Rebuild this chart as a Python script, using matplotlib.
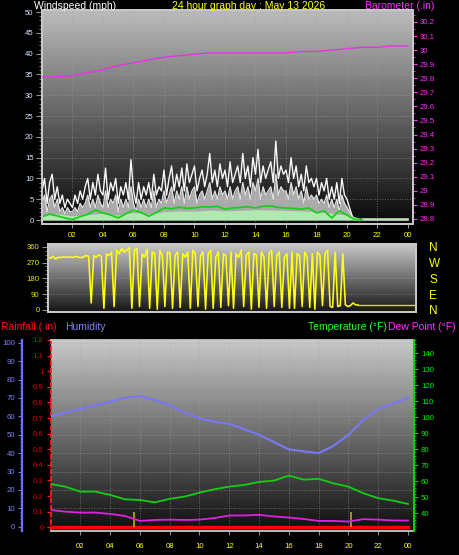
import matplotlib
matplotlib.use('Agg')
import matplotlib.pyplot as plt
import numpy as np
from matplotlib.ticker import MultipleLocator, FixedLocator

plt.rcParams['font.family'] = ['Liberation Sans', 'DejaVu Sans']

# ---------------- data ----------------
# wind gust (mph), every 10 min from 00:00 to 20:30
wind_gust = [7, 10, 4, 9, 11, 5,
             8, 4, 6, 3, 5, 4,
             3, 6, 4, 7, 5, 8,
             10, 5, 9, 6, 11, 7,
             6, 12.5, 5, 9, 7, 10,
             4, 8, 6, 9, 5, 14.5,
             7, 4, 9, 5, 8, 6,
             9, 5, 11, 6, 8, 7,
             12, 6, 10, 13, 7, 11,
             8, 12.5, 7, 13.5, 9, 11,
             13, 7, 10, 12, 8, 11,
             16, 9, 12, 8, 13.5, 10,
             12, 8, 14, 9, 11, 13,
             9, 16, 10, 13, 8, 15,
             11, 17, 9, 13, 10, 12,
             14, 9, 19, 10, 13, 11,
             12, 9, 15, 10, 13, 8,
             11, 7, 13, 9, 10, 8,
             10, 6, 9, 7, 10, 5,
             8, 5, 9, 4, 10, 6,
             5, 3, 1, 0]
# wind speed (mph), every 10 min from 00:00 to 20:30
wind_speed = [4, 6, 2, 5, 6, 3,
              5, 2, 3, 1.5, 3, 2,
              2, 3, 2, 4, 3, 4,
              6, 3, 5, 3, 6, 4,
              3, 7, 3, 5, 4, 6,
              2, 5, 3, 5, 3, 8,
              4, 2, 5, 3, 5, 3,
              5, 3, 7, 3, 5, 4,
              7, 4, 6, 8, 4, 7,
              5, 8, 4, 8, 5, 7,
              8, 4, 6, 7, 5, 7,
              9, 5, 7, 5, 8, 6,
              7, 5, 8, 5, 7, 8,
              5, 9, 6, 8, 5, 9,
              7, 10, 5, 8, 6, 7,
              8, 5, 11, 6, 8, 7,
              7, 5, 9, 6, 8, 5,
              7, 4, 8, 5, 6, 5,
              6, 4, 5, 4, 6, 3,
              5, 3, 5, 2, 6, 4,
              3, 2, 1, 0]
# smoothed wind (mph), every 30 min from 00:00 to 21:00
wind_smooth = [0.8, 1.4, 1.0, 0.5, 0.1, 0.8, 1.4, 2.4, 1.7, 1.2, 0.5, 1.5, 2.4, 1.8,
               0.9, 1.8, 2.9, 2.7, 3.1, 2.8, 2.9, 3.2, 3.1, 3.3, 2.6, 2.9, 3.0, 3.2,
               2.9, 3.3, 3.4, 3.0, 2.9, 2.8, 2.6, 2.9, 1.7, 2.2, 0.5, 2.2, 1.2, 0.1, 0]
# low wind band (mph), hourly 00:00 to 21:00
wind_low = [1.2, 1.5, 1.0, 1.3, 1.6, 1.2, 1.8, 1.4, 2.0, 2.2, 2.1, 2.4, 2.2, 2.3,
            2.5, 2.4, 2.3, 2.2, 2.0, 1.6, 1.2, 0.3]
# barometer (in), hourly 00:00 to 24:00
baro = [29.81, 29.81, 29.82, 29.84, 29.86, 29.89, 29.91, 29.93, 29.95, 29.96, 29.97,
        29.98, 29.98, 29.98, 29.98, 29.98, 29.98, 29.99, 29.99, 30.00, 30.01, 30.02,
        30.02, 30.03, 30.03]
# wind direction (deg), every 10 min from 00:00 to 20:20
wind_dir = [300, 295, 305, 290, 300, 298, 302, 300, 300, 302, 300, 305, 300, 298, 302, 310, 305, 40, 310, 300, 315, 305, 10, 320,
            310, 330, 20, 340, 320, 350, 330, 340, 355, 10, 340, 350, 20, 320, 300, 345, 10, 330, 320, 5, 340, 310, 20, 330,
            325, 10, 310, 330, 15, 320, 300, 330, 10, 340, 320, 20, 310, 330, 5, 320, 340, 10, 300, 330, 15, 320, 310, 25,
            330, 10, 320, 300, 340, 20, 310, 330, 5, 320, 315, 15, 330, 300, 10, 320, 340, 20, 310, 330, 15, 300, 320, 10,
            330, 10, 320, 310, 20, 330, 300, 15, 320, 5, 330, 310, 25, 320, 340, 20, 15, 330, 20, 25, 320, 30, 20, 25,
            40, 30, 28]
dir_tail = 28
# hourly 00:00 to 24:00
humidity = [60, 62, 64, 66, 68, 70, 71, 69, 66, 62, 59, 57, 56, 53, 50, 46, 42, 41, 40, 44,
            50, 58, 64, 67, 70]
temperature = [58.3, 56.6, 53.5, 53.5, 51.5, 48.7, 48.3, 46.8, 49.0, 50.4, 52.9, 55.0, 56.6,
               57.7, 59.6, 60.4, 63.5, 61.0, 61.5, 58.7, 56.6, 52.5, 49.4, 47.9, 45.8]
dewpoint = [42, 41, 40.4, 40.4, 39.6, 38.3, 35.2, 35.8, 36, 35.8, 36, 37, 38.6, 38.6, 39,
            38, 37.3, 36.4, 35.2, 35.2, 34.8, 36.3, 36, 35.5, 35.4]
rainfall = [0.0] * 25
sun_marks = [5.6, 20.2]
hour_labels = ['02', '04', '06', '08', '10', '12', '14', '16', '18', '20', '22', '00']
hour_ticks = [2, 4, 6, 8, 10, 12, 14, 16, 18, 20, 22, 24]

t10w = np.arange(len(wind_gust)) / 6.0
t30 = np.arange(len(wind_smooth)) * 0.5
t60w = np.arange(len(wind_low)) * 1.0
t60 = np.arange(len(baro)) * 1.0
t10 = np.arange(len(wind_dir)) / 6.0

# ---------------- layout ----------------
W, H = 459, 555
fig = plt.figure(figsize=(W / 100, H / 100), dpi=100, facecolor='black')


def box(l, t, r, b):
    return [l / W, 1 - b / H, (r - l) / W, (b - t) / H]


def gradient(ax, top, bottom):
    g = np.linspace(top, bottom, 256).reshape(-1, 1)
    ax.imshow(g, extent=[0, 1, 0, 1], transform=ax.transAxes, cmap='gray',
              vmin=0, vmax=255, aspect='auto', zorder=0, interpolation='bilinear')


def frame(ax, color='#c8c8c8'):
    for s in ax.spines.values():
        s.set_color(color)
        s.set_linewidth(1.3)


FS = 5.6
TFS = 7.5
YEL = '#ffff00'
GRID = dict(color='#a0a0a0', linestyle=(0, (1, 2)), linewidth=0.6, alpha=0.7)

# ---- top panel: wind + barometer ----
ax1 = fig.add_axes(box(42, 10, 413, 224))
gradient(ax1, 188, 8)
ax1.set_xlim(0, 24.33)
ax1.set_ylim(-0.96, 50.5)
ax1.set_facecolor('black')
frame(ax1)
ax1.yaxis.set_major_locator(MultipleLocator(5))
ax1.yaxis.set_minor_locator(MultipleLocator(1))
ax1.set_xticks(hour_ticks)
ax1.set_xticklabels(hour_labels)
ax1.tick_params(axis='y', which='major', length=4, color='#909090', labelcolor='#dce6ff',
                labelsize=FS, pad=2)
ax1.tick_params(axis='y', which='minor', length=2, color='#909090')
ax1.tick_params(axis='x', length=3, color='#909090', labelcolor=YEL, labelsize=FS, pad=3)
for v in range(5, 51, 5):
    ax1.axhline(v, zorder=1, **GRID)
for v in hour_ticks[:-1]:
    ax1.axvline(v, zorder=1, **GRID)

ax1.fill_between(t10w, 0, wind_speed, color='#d0d0d0', alpha=0.8, lw=0, zorder=2)
ax1.plot(t10w, wind_gust, color='#f8f8f8', lw=1.0, zorder=3)
ax1.plot(t10w, wind_speed, color='#e0e0e0', lw=0.9, zorder=3)
ax1.fill_between(t60w, 0, wind_low, color='#b0e8b0', lw=0, zorder=4)
ax1.plot([t10w[-1], 24], [0, 0], color='#d0d0d0', lw=1.2, zorder=4)
ax1.plot([t60w[-1], 24], [wind_low[-1], wind_low[-1]], color='#b0e8b0', lw=1.2, zorder=4)
ax1.plot(t30, wind_smooth, color='#18d018', lw=1.3, zorder=5)

axb = ax1.twinx()
frame(axb)
axb.set_ylim(28.764, 30.285)
bt = [round(28.8 + 0.1 * i, 1) for i in range(15)]
axb.set_yticks(bt)
axb.set_yticklabels(['%g' % v for v in bt])
axb.yaxis.set_minor_locator(MultipleLocator(0.05))
axb.tick_params(axis='y', which='major', length=3, color='#ff30ff', labelcolor='#ff30ff',
                labelsize=FS, pad=2)
axb.tick_params(axis='y', which='minor', length=1.5, color='#ff30ff')
axb.plot(t60, baro, color='#e832e8', lw=1.0, zorder=5)

# ---- middle panel: wind direction ----
ax2 = fig.add_axes(box(48, 244.3, 415.5, 312.3))
gradient(ax2, 200, 22)
ax2.set_xlim(0, 24.1)
ax2.set_ylim(-13.1, 373.6)
frame(ax2)
ax2.set_yticks([0, 90, 180, 270, 360])
ax2.yaxis.set_minor_locator(MultipleLocator(22.5))
ax2.set_xticks([])
ax2.tick_params(axis='y', which='major', length=4, color='#909090', labelcolor='#e8e800',
                labelsize=FS, pad=2)
ax2.tick_params(axis='y', which='minor', length=2, color='#909090')
for v in [90, 180, 270]:
    ax2.axhline(v, zorder=1, **GRID)
ax2.plot(t10, wind_dir, color='#ffff10', lw=1.15, zorder=3)
ax2.plot([t10[-1], 24], [dir_tail, dir_tail], color='#d8d820', lw=1.0, zorder=3)
ax2b = ax2.twinx()
ax2b.set_ylim(ax2.get_ylim())
ax2b.set_yticks([0, 90, 180, 270, 360])
ax2b.set_yticklabels(['N', 'E', 'S', 'W', 'N'])
ax2b.tick_params(axis='y', length=0, labelcolor=YEL, labelsize=8.5, pad=10)
frame(ax2b)

# ---- bottom panel: rain / humidity / temperature / dew point ----
ax3 = fig.add_axes(box(50.5, 340, 414, 531))
gradient(ax3, 200, 14)
ax3.set_xlim(0, 24.4)
ax3.set_ylim(-0.024, 1.198)
frame(ax3)
ax3.spines['left'].set_color('#ff2020')
ax3.spines['left'].set_linestyle((0, (2, 2)))
rt = [round(0.1 * i, 1) for i in range(13)]
ax3.set_yticks(rt)
ax3.set_yticklabels(['%g' % v for v in rt])
ax3.set_xticks(hour_ticks)
ax3.set_xticklabels(hour_labels)
ax3.tick_params(axis='y', length=3, color='#ff2020', labelcolor='#e00000', labelsize=FS, pad=2)
ax3.tick_params(axis='x', length=3, color='#909090', labelcolor=YEL, labelsize=FS, pad=6)
for v in hour_ticks[:-1]:
    ax3.axvline(v, zorder=1, **GRID)

axh = ax3.twinx()
axh.set_ylim(-2.3, 101.5)
for v in range(10, 101, 10):
    axh.axhline(v, zorder=1, **GRID)
axh.yaxis.tick_left()
axh.spines['left'].set_position(('outward', 20.5))
for k in ['right', 'top', 'bottom']:
    axh.spines[k].set_visible(False)
axh.spines['left'].set_color('#7070ff')
axh.spines['left'].set_linewidth(1.6)
axh.yaxis.set_major_locator(MultipleLocator(10))
axh.yaxis.set_minor_locator(MultipleLocator(2))
axh.tick_params(axis='y', which='major', length=3, color='#7070ff', labelcolor='#8080ff',
                labelsize=FS, pad=2)
axh.tick_params(axis='y', which='minor', length=1.5, color='#7070ff')
axh.plot(t60, humidity, color='#7878f0', lw=1.6, zorder=4)

axt = ax3.twinx()
axt.set_ylim(28.9, 148.3)
for k in ['left', 'top', 'bottom']:
    axt.spines[k].set_visible(False)
axt.spines['right'].set_color('#00d000')
axt.spines['right'].set_linewidth(1.3)
axt.yaxis.set_major_locator(FixedLocator(list(range(40, 141, 10))))
axt.yaxis.set_minor_locator(MultipleLocator(2))
axt.tick_params(axis='y', which='major', length=3, color='#00d000', labelcolor='#00ee00',
                labelsize=FS, pad=2)
axt.tick_params(axis='y', which='minor', length=1.5, color='#00d000')
axt.plot(t60, temperature, color='#10d010', lw=1.3, zorder=4)
axt.plot(t60, dewpoint, color='#e020e0', lw=1.3, zorder=4)

ax3.plot(t60, rainfall, color='#ff0000', lw=2.5, zorder=5, clip_on=False)
ax3.vlines(sun_marks, 0, 0.1, color='#b8a820', lw=1.2, zorder=6)

# ---- titles ----
ty = 1 - 6 / H
fig.text(34 / W, ty, 'Windspeed (mph)', color='white', fontsize=TFS, va='center', ha='left')
fig.text(249 / W, ty, '24 hour graph day : May 13 2026', color=YEL, fontsize=TFS,
         va='center', ha='center')
fig.text(434 / W, ty, 'Barometer (.in)', color='#ff30ff', fontsize=TFS, va='center', ha='right')
by = 1 - 326.5 / H
fig.text(1 / W, by, 'Rainfall (.in)', color='#ff1010', fontsize=TFS, va='center', ha='left')
fig.text(65.5 / W, by, 'Humidity', color='#8080ff', fontsize=TFS, va='center', ha='left')
fig.text(308 / W, by, 'Temperature (°F)', color='#20ff20', fontsize=TFS, va='center', ha='left')
fig.text(456 / W, by, 'Dew Point (°F)', color='#ff30ff', fontsize=TFS, va='center', ha='right')

fig.savefig('out.png', dpi=100, facecolor='black')
